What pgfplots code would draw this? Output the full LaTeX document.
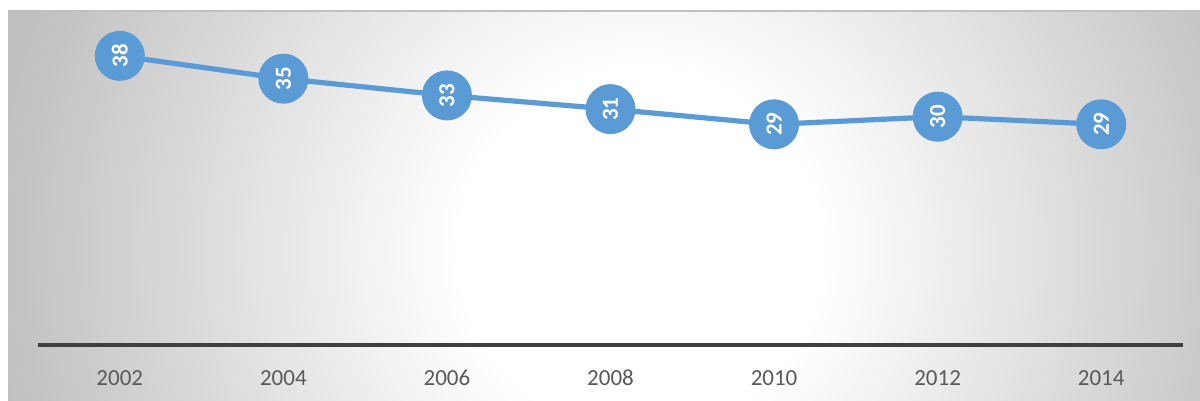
\documentclass[border=0pt]{standalone}
\usepackage{pgfplots}
\pgfplotsset{compat=1.18}
\usepackage{fontspec}
\setmainfont{Carlito}

\definecolor{lineblue}{HTML}{5B9BD5}
\definecolor{ticktext}{HTML}{595959}
\definecolor{axisdark}{HTML}{404040}
\definecolor{edgegray}{HTML}{C0C0C0}

% circle radius 900 px: 25bp = 900 px, so 18bp is about 650 px
\pgfdeclareradialshading{panelbg}{\pgfpoint{0bp}{0bp}}{%
  color(0bp)=(white); color(5bp)=(white); color(18bp)=(edgegray); color(50bp)=(edgegray)}

\begin{document}
\begin{tikzpicture}
  % picture frame 1200 x 401 px at 0.5pt per px, origin bottom left
  \begin{scope}[x=0.5pt, y=0.5pt]
    \useasboundingbox (0,0) rectangle (1200,401);
    \begin{scope}
      \clip (8,0) rectangle (1200,390);
      \shade[shading=panelbg] (640,150) circle (900);
    \end{scope}
    \draw[edgegray, line width=0.6pt] (8,390) -- (1200,390);
  \end{scope}

  \begin{axis}[
      at={(19pt,28pt)}, anchor=south west,
      scale only axis,
      width=572.5pt, height=167.4pt,
      xmin=2001, xmax=2015,
      ymin=0, ymax=44,
      axis line style={draw=none},
      ytick=\empty,
      xtick={2002,2004,2006,2008,2010,2012,2014},
      xticklabels={2002,2004,2006,2008,2010,2012,2014},
      major tick length=0pt,
      xticklabel style={font=\fontsize{11.5}{13}\selectfont, text=ticktext,
        text height=1.6ex, text depth=0pt, yshift=-9pt},
      clip=false,
      nodes near coords={\textbf{\pgfmathprintnumber[fixed,precision=0,assume math mode=true]{\pgfplotspointmeta}}},
      every node near coord/.append style={anchor=center, rotate=90, text=white,
        font=\fontsize{11.5}{13}\selectfont},
    ]
    \addplot[color=lineblue, line width=2.6pt, mark=*, mark size=11.2pt,
      mark options={fill=lineblue, draw=none}] coordinates {
      (2002, 38.0)
      (2004, 35.0)
      (2006, 32.8)
      (2008, 31.0)
      (2010, 29.0)
      (2012, 30.0)
      (2014, 29.0)
    };
    \draw[axisdark, line width=1.8pt] (rel axis cs:0,0) -- (rel axis cs:1,0);
  \end{axis}
\end{tikzpicture}
\end{document}
